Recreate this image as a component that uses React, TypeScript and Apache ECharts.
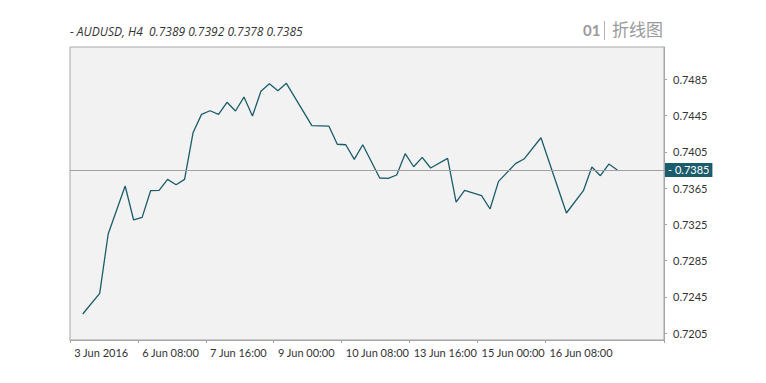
import React, { useEffect, useRef } from "react";
import * as echarts from "echarts";

const days = ["3 Jun", "6 Jun", "7 Jun", "8 Jun", "9 Jun", "10 Jun", "13 Jun", "14 Jun", "15 Jun", "16 Jun", "17 Jun", "20 Jun"];
const hours = ["00:00", "04:00", "08:00", "12:00", "16:00", "20:00"];
const categories = days.flatMap((d) => hours.map((h) => `${d} ${h}`)).slice(0, 70);

const xTickCats = ["3 Jun 00:00", "6 Jun 08:00", "7 Jun 16:00", "9 Jun 00:00", "10 Jun 08:00", "13 Jun 16:00", "15 Jun 00:00", "16 Jun 08:00"];
const xTickLabels = ["3 Jun 2016", "6 Jun 08:00", "7 Jun 16:00", "9 Jun 00:00", "10 Jun 08:00", "13 Jun 16:00", "15 Jun 00:00", "16 Jun 08:00"];

const yTickValues = [0.7205, 0.7245, 0.7285, 0.7325, 0.7365, 0.7405, 0.7445, 0.7485];

// bar index of each drawn vertex and its price
const vertexBars = [1, 3, 4, 6, 7, 8, 9, 10, 11, 12, 13, 14, 15, 16, 17, 18, 19, 20, 21, 22, 23, 24, 25, 28, 30, 31, 32, 33, 34, 36, 37, 38, 39, 40, 41, 42, 44, 45, 46, 48, 49, 50, 52, 53, 55, 58, 60, 61, 62, 63, 64];
const prices = [0.72261, 0.72489, 0.73143, 0.73673, 0.73298, 0.73327, 0.73621, 0.73625, 0.73746, 0.73687, 0.73746, 0.7426, 0.74463, 0.74503, 0.74463, 0.74596, 0.745, 0.74654, 0.74445, 0.74717, 0.74801, 0.74724, 0.74805, 0.74338, 0.74334, 0.74133, 0.74128, 0.73967, 0.74128, 0.73761, 0.73757, 0.73794, 0.74029, 0.73885, 0.73989, 0.73871, 0.73978, 0.73496, 0.73625, 0.73566, 0.73419, 0.73724, 0.73919, 0.7397, 0.74205, 0.73375, 0.73621, 0.73882, 0.73786, 0.73915, 0.7385];

const ohlc = [0.7389, 0.7392, 0.7378, 0.7385];
const lastPrice = 0.7385;

const FONT = "Lato, 'Open Sans', sans-serif";
const LINE = "#1b5c6b";

export default function App() {
  const ref = useRef<HTMLDivElement>(null);
  useEffect(() => {
    if (!ref.current) return;
    const chart = echarts.init(ref.current, undefined, { renderer: "svg" });
    const showIdx = (i: number) => xTickCats.includes(categories[i]);
    chart.setOption({
      animation: false,
      backgroundColor: "#ffffff",
      grid: {
        left: 70,
        top: 47,
        width: 594,
        height: 293,
        show: true,
        backgroundColor: "#f2f2f2",
        borderColor: "#a6a6a6",
        borderWidth: 1,
      },
      graphic: [
        {
          type: "text",
          left: 70,
          top: 25,
          style: {
            text: `- AUDUSD, H4  ${ohlc.map((v) => v.toFixed(4)).join(" ")}`,
            font: `italic 12px 'Open Sans', sans-serif`,
            fill: "#333333",
          },
        },
        {
          type: "text",
          left: 583,
          top: 22,
          style: { text: "01", font: `bold 15px ${FONT}`, fill: "#9a9a9a" },
        },
        {
          type: "rect",
          shape: { x: 604, y: 21, width: 1, height: 19 },
          style: { fill: "#b5b5b5" },
        },
        {
          type: "text",
          left: 612,
          top: 20,
          style: { text: "折线图", font: `17px 'Noto Sans CJK SC', sans-serif`, fill: "#9a9a9a" },
        },
      ],
      xAxis: {
        type: "category",
        data: categories,
        boundaryGap: true,
        axisLine: { lineStyle: { color: "#a6a6a6", width: 1 } },
        axisTick: { show: true, interval: (i: number) => showIdx(i), length: 3, lineStyle: { color: "#a6a6a6" } },
        axisLabel: {
          interval: (i: number) => showIdx(i),
          formatter: (v: string) => xTickLabels[xTickCats.indexOf(v)] ?? "",
          align: "left",
          margin: 7,
          color: "#333333",
          fontSize: 11,
          fontFamily: FONT,
        },
        splitLine: { show: false },
      },
      yAxis: {
        type: "value",
        position: "right",
        min: 0.71974,
        max: 0.75206,
        scale: true,
        axisLine: { show: true, lineStyle: { color: "#a6a6a6", width: 1 } },
        axisTick: { show: true, length: 3, customValues: yTickValues, lineStyle: { color: "#a6a6a6" } },
        axisLabel: {
          customValues: yTickValues,
          formatter: (v: number) => v.toFixed(4),
          margin: 9,
          color: "#333333",
          fontSize: 11,
          fontFamily: FONT,
        },
        splitLine: { show: false },
      },
      series: [
        {
          type: "line",
          data: vertexBars.map((b, i) => [b, prices[i]]),
          showSymbol: false,
          symbol: "none",
          lineStyle: { color: LINE, width: 1.3 },
          markLine: {
            silent: true,
            symbol: "none",
            precision: 4,
            lineStyle: { color: "#a0a0a0", width: 1, type: "solid" },
            label: {
              show: true,
              position: "end",
              distance: 1,
              formatter: () => `- ${lastPrice.toFixed(4)}`,
              color: "#ffffff",
              backgroundColor: LINE,
              padding: [2, 3, 1, 3],
              fontSize: 11,
              fontFamily: FONT,
            },
            data: [{ yAxis: lastPrice }],
          },
        },
      ],
    });
    return () => chart.dispose();
  }, []);
  return <div ref={ref} style={{ position: "fixed", left: 0, top: 0, width: 766, height: 383 }} />;
}
